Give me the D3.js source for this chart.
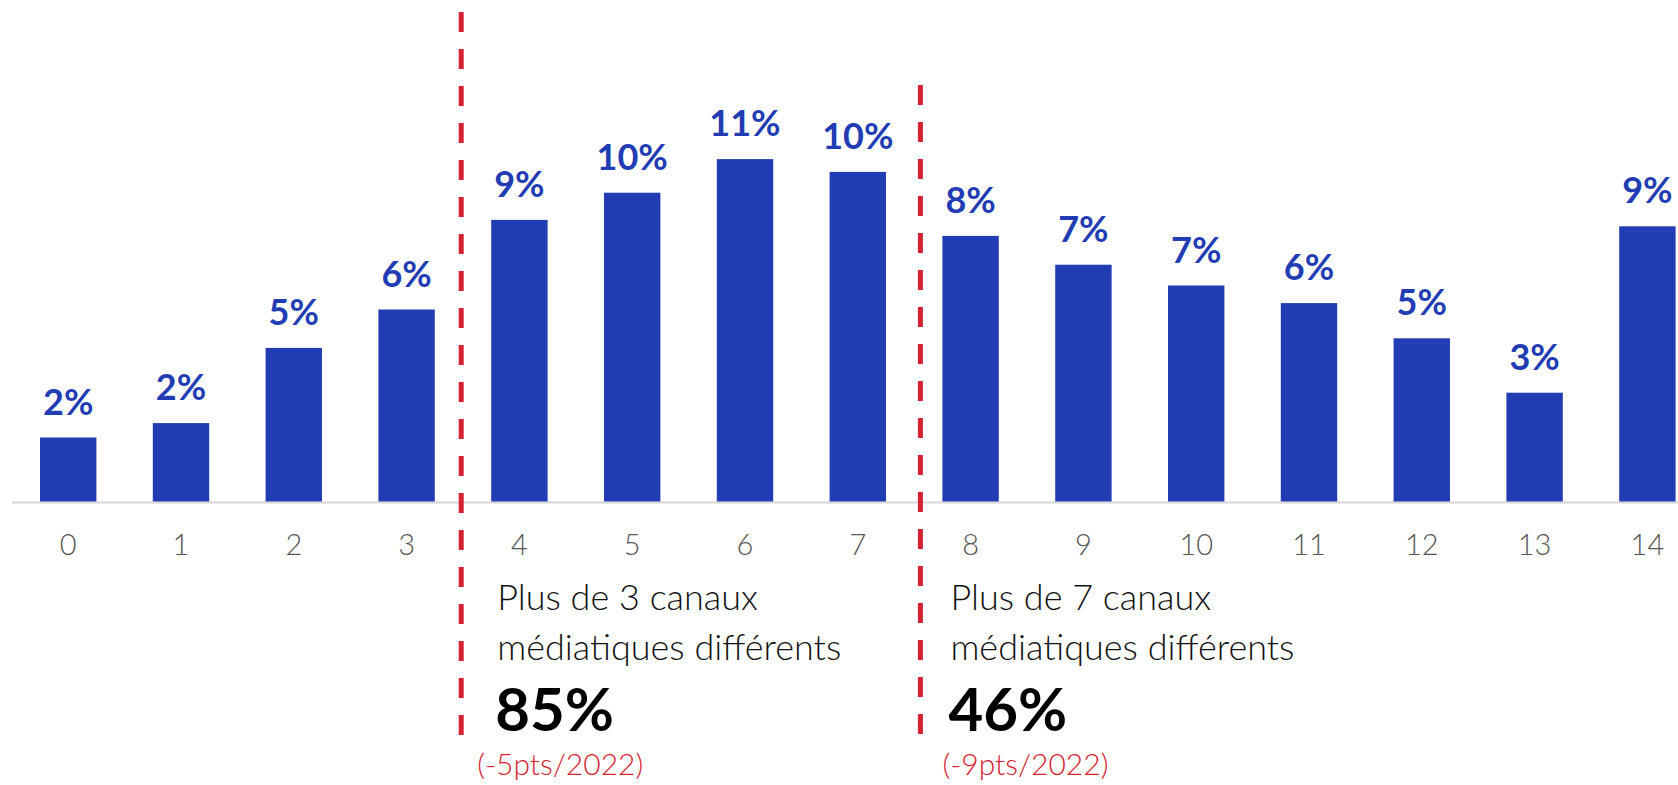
<!DOCTYPE html>
<html>
<head>
<meta charset="utf-8">
<script src="https://cdn.jsdelivr.net/npm/d3@7"></script>
<style>
    body { margin: 0; background: #fff; }
    svg { display: block; font-family: Lato, "Open Sans", sans-serif; }
    .tick-label { fill: #555; font-weight: 300; font-size: 29px; }
    .value-label { fill: #223db3; font-weight: 700; font-size: 36px; }
    .note { fill: #111; font-weight: 300; font-size: 36px; }
    .note-big { fill: #000; font-weight: 700; font-size: 60px; }
    .note-red { fill: #d52233; font-weight: 300; font-size: 30px; }
</style>
</head>
<body>
<svg id="chart"></svg>
<script>
// number of media channels used
var categories = ["0","1","2","3","4","5","6","7","8","9","10","11","12","13","14"];
// share of respondents (%)
var values = [2.0, 2.45, 4.8, 6.0, 8.8, 9.65, 10.7, 10.3, 8.3, 7.4, 6.75, 6.2, 5.1, 3.4, 8.6];

// the two cut-offs and their summary texts
var splitAfter = ["3", "7"];
var noteLines = [
    ["Plus de 3 canaux", "médiatiques différents"],
    ["Plus de 7 canaux", "médiatiques différents"]
];
var noteTotals = ["85%", "46%"];
var noteChanges = ["(-5pts/2022)", "(-9pts/2022)"];

var screen = {width: 1678, height: 785};
var baseline = 501.5;

var svg = d3.select("#chart")
    .attr("width", screen.width)
    .attr("height", screen.height);

//create scales
var xScale = d3.scaleBand()
    .domain(categories)
    .range([11.8, 1703.8])
    .paddingInner(0.5)
    .paddingOuter(0.25);

var yScale = d3.scaleLinear()
    .domain([0, 12])
    .range([baseline, baseline - 384]);

// baseline
svg.append("line")
    .attr("x1", 12)
    .attr("x2", screen.width)
    .attr("y1", baseline + 1)
    .attr("y2", baseline + 1)
    .attr("stroke", "#d6d6d6")
    .attr("stroke-width", 2);

// bars
svg.append("g")
    .selectAll("rect")
    .data(values)
    .enter()
    .append("rect")
    .attr("x", function(d, i) { return xScale(categories[i]); })
    .attr("width", xScale.bandwidth())
    .attr("y", function(d) { return yScale(d); })
    .attr("height", function(d) { return baseline - yScale(d); })
    .attr("fill", "#223db3");

// value labels
svg.append("g")
    .selectAll("text")
    .data(values)
    .enter()
    .append("text")
    .classed("value-label", true)
    .attr("text-anchor", "middle")
    .attr("x", function(d, i) { return xScale(categories[i]) + xScale.bandwidth() / 2; })
    .attr("y", function(d) { return yScale(d) - 23; })
    .text(function(d) { return Math.round(d) + "%"; });

// category labels
svg.append("g")
    .selectAll("text")
    .data(categories)
    .enter()
    .append("text")
    .classed("tick-label", true)
    .attr("text-anchor", "middle")
    .attr("x", function(d) { return xScale(d) + xScale.bandwidth() / 2; })
    .attr("y", 555)
    .text(function(d) { return d; });

// dashed separators and notes
var lineTops = [12, 85];
var lineShift = [-30, -22];
splitAfter.forEach(function(cat, k) {
    var next = categories[categories.indexOf(cat) + 1];
    var x = xScale(next) + lineShift[k];
    svg.append("line")
        .attr("x1", x).attr("x2", x)
        .attr("y1", lineTops[k]).attr("y2", 740)
        .attr("stroke", "#d52233")
        .attr("stroke-width", 5)
        .attr("stroke-dasharray", "20,17");

    var tx = x + (k == 0 ? 36 : 30);
    noteLines[k].forEach(function(line, j) {
        svg.append("text")
            .classed("note", true)
            .attr("x", tx)
            .attr("y", 610 + j * 50)
            .text(line);
    });
    svg.append("text")
        .classed("note-big", true)
        .attr("x", tx - 2)
        .attr("y", 731)
        .text(noteTotals[k]);
    svg.append("text")
        .classed("note-red", true)
        .attr("x", x + (k == 0 ? 16 : 22))
        .attr("y", 775)
        .text(noteChanges[k]);
});
</script>
</body>
</html>
